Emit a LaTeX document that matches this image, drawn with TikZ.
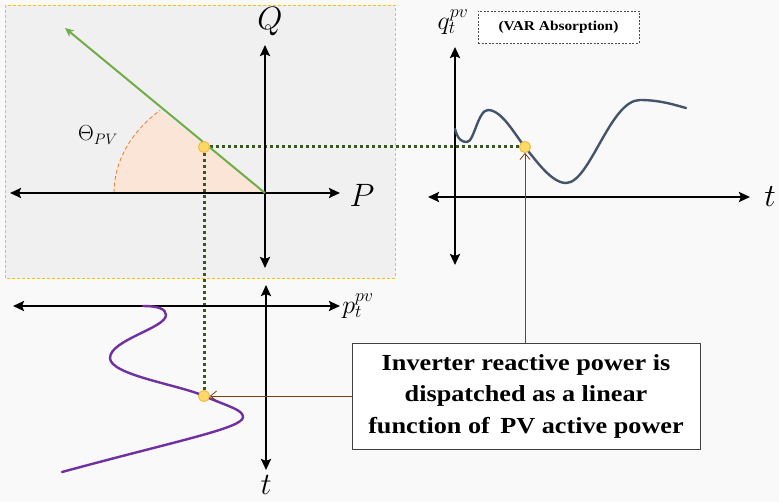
\documentclass[tikz,border=0pt]{standalone}
\usepackage{graphicx}
\usepackage{fontspec}
\setmainfont{Liberation Serif}
\newfontfamily\notefont[FakeStretch=1.14]{Liberation Serif}
\usetikzlibrary{arrows.meta}
\definecolor{pagebg}{HTML}{F9F9F9}
\definecolor{panelbg}{HTML}{F0F0F0}
\definecolor{panelline}{HTML}{FFC000}
\definecolor{wedgefill}{HTML}{FBE5D6}
\definecolor{wedgeline}{HTML}{ED7D31}
\definecolor{pvgreen}{HTML}{70AD47}
\definecolor{dotgreen}{HTML}{385723}
\definecolor{qcurve}{HTML}{44546A}
\definecolor{pcurve}{HTML}{7030A0}
\definecolor{ptfill}{HTML}{FFD966}
\definecolor{ptdraw}{HTML}{F4B942}
\definecolor{calloutc}{HTML}{843C0C}
\begin{document}
\begin{tikzpicture}[x=1pt, y=-1pt, line join=round, >={Stealth[length=11pt,width=10pt,inset=2pt]},
	axis/.style={line width=2.8pt, <->},
	guide/.style={dotgreen, line width=3pt, dash pattern=on 3pt off 3pt},
	dotpt/.style={circle, fill=ptfill, draw=ptdraw, line width=0.8pt, inner sep=0pt, minimum size=11pt},
	callout/.style={draw=calloutc, line width=0.8pt, -{Straight Barb[length=6pt,width=10pt]}},
	lbl/.style={font=\fontsize{24.88}{27}\selectfont, inner sep=0pt}]
	\useasboundingbox (0,0) rectangle (779,502);
	\fill[pagebg] (0,0) rectangle (779,502);
	\filldraw[fill=panelbg, draw=panelline, line width=0.8pt, dash pattern=on 3pt off 2pt] (5,5) rectangle (395,278);
	
	\foreach \n/\x/\y in {PL/10/193, PR/340/193, QT/265/45, QB/265/268, O/265/193, V/65/28,
		RL/428/197, RR/750/197, RT/455/47, RB/455/265,
		BL/13/306, BR/340/306, BT/266/285, BB/266/470} {
		\coordinate (\n) at (\x,\y);
	}
	
	% angle wedge
	\fill[wedgefill] (O) -- (114,193) arc[start angle=180, end angle=226, x radius=151, y radius=115] -- cycle;
	\draw[wedgeline, line width=0.8pt, dash pattern=on 4pt off 2.5pt] (114,193) arc[start angle=180, end angle=226, x radius=151, y radius=115];
	
	\node[dotpt] (ptA) at (204,147) {};
	\node[dotpt] (ptQ) at (525,147) {};
	\node[dotpt] (ptP) at (204,396) {};
	
	\draw[guide] (ptA.center) -- (ptQ.center) (ptA.center) -- (ptP.center);
	
	\draw[axis] (PL) -- (PR);
	\draw[axis] (QB) -- (QT);
	\draw[axis] (RL) -- (RR);
	\draw[axis] (RB) -- (RT);
	\draw[axis] (BL) -- (BR);
	\draw[axis] (BB) -- (BT);
	
	\draw[pvgreen, line width=2pt, -{Stealth[length=9pt,width=8pt]}] (O) -- (V);
	
	\draw[qcurve, line width=2.4pt, line cap=round] (455,129) .. controls (458,140) and (462,142) .. (467,142)
		.. controls (474,142) and (478,110) .. (488,110)
		.. controls (502,110) and (515,135) .. (525,147)
		.. controls (537,162) and (552,183) .. (566,183)
		.. controls (590,183) and (610,100) .. (640,100)
		.. controls (660,100) and (675,105) .. (686,108);
	\draw[pcurve, line width=2.4pt, line cap=round] (143,306) .. controls (158,306) and (166,309) .. (166,315)
		.. controls (166,328) and (110,340) .. (110,358)
		.. controls (110,375) and (180,385) .. (204,396)
		.. controls (230,407) and (243,410) .. (243,417)
		.. controls (243,428) and (180,440) .. (62,472);
	
	\node[dotpt] at (ptA) {};
	\node[dotpt] at (ptQ) {};
	\node[dotpt] at (ptP) {};
	
	\node[lbl] (labQ) at (270,22) {\scalebox{1.3}{$Q$}};
	\node[lbl] (labP) at (362,195) {\scalebox{1.3}{$P$}};
	\node[font=\fontsize{20.74}{22}\selectfont] (labTh) at (98,135) {\scalebox{1.05}{$\Theta_{PV}$}};
	\node[font=\fontsize{20.74}{22}\selectfont] (labq) at (453,22) {\scalebox{1.25}{$q_t^{pv}$}};
	\node[lbl] (labtR) at (770,197) {\scalebox{1.3}{$t$}};
	\node[font=\fontsize{20.74}{22}\selectfont] (labp) at (358,306) {\scalebox{1.25}{$p_t^{pv}$}};
	\node[lbl] (labtB) at (266,485) {\scalebox{1.25}{$t$}};
	
	\node[draw=black!70, dash pattern=on 2pt off 1.5pt, line width=0.6pt, fill=white, minimum width=161pt, minimum height=32pt, inner sep=0pt,
		font=\notefont\bfseries\fontsize{13.5}{15}\selectfont] (var) at (558.5,27) {(VAR Absorption)};
	
	\node[draw=black!75, fill=white, line width=0.8pt, minimum width=348pt, minimum height=106pt, align=center,
		font=\notefont\bfseries\fontsize{23}{31.5}\selectfont] (note) at (526,396) {Inverter reactive power is\\dispatched as a linear\\function of\, PV active power};
	
	\draw[callout] (note.north -| ptQ) -- (ptQ);
	\draw[callout] (note.west |- ptP) -- (ptP);
	
\end{tikzpicture}
\end{document}
